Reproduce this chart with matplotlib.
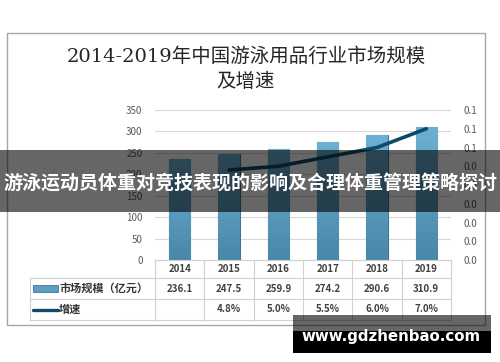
import numpy as np
import matplotlib
matplotlib.use('Agg')
import matplotlib.pyplot as plt
import matplotlib.ticker as ticker
from matplotlib.patches import Rectangle
from matplotlib.lines import Line2D
from matplotlib.transforms import blended_transform_factory

plt.rcParams['font.family'] = ['Noto Sans CJK SC', 'DejaVu Sans']

# data
years = ['2014', '2015', '2016', '2017', '2018', '2019']
market = [236.1, 247.5, 259.9, 274.2, 290.6, 310.9]
growth = [None, 0.048, 0.050, 0.055, 0.060, 0.070]
growth_labels = ['', '4.8%', '5.0%', '5.5%', '6.0%', '7.0%']
title_lines = ['2014-2019年中国游泳用品行业市场规模', '及增速']
banner = '游泳运动员体重对竞技表现的影响及合理体重管理策略探讨'
watermark = 'www.gdzhenbao.com'

W, H = 500.0, 362.0
bar_color = '#5b9dc0'
line_color = '#0d4a66'
grid_color = '#d9d9d9'
text_color = '#595959'


def fy(py):
    # pixel row (from top) -> figure fraction
    return 1 - py / H


fig = plt.figure(figsize=(5.0, 3.62), dpi=100)
fig.patch.set_facecolor('white')

# outer frame
fig.add_artist(Rectangle((7 / W, fy(325)), 478 / W, 292 / H, transform=fig.transFigure,
                         fill=False, edgecolor='#a6a6a6', linewidth=1.0))

# title (two lines)
for txt, py in zip(title_lines, [57, 82]):
    fig.text(246 / W, fy(py), txt, ha='center', va='center', fontsize=14,
             color='#262626', family=['DejaVu Serif', 'Noto Sans CJK SC'],
             fontweight='medium')

# main axes
ax = fig.add_axes([155 / W, fy(260), 296 / W, 150 / H])
x = np.arange(len(years))
bars = ax.bar(x, market, width=0.43, color=bar_color, edgecolor='#3f7696',
              linewidth=0.8, zorder=3)
# vertical gradient on bars (lighter top, darker bottom)
grad = np.linspace(0, 1, 64).reshape(-1, 1)
cmap = matplotlib.colors.LinearSegmentedColormap.from_list('bg', ['#4a87a8', '#6db0d3'])
for b in bars:
    bx, by = b.get_x(), b.get_y()
    bw, bh = b.get_width(), b.get_height()
    im = ax.imshow(grad, cmap=cmap, aspect='auto', origin='lower',
                   extent=(bx, bx + bw, by, by + bh), zorder=3.5)
    im.set_clip_path(b)
ax.set_xlim(-0.5, len(years) - 0.5)
ax.set_ylim(0, 350)
ax.yaxis.set_major_locator(ticker.MultipleLocator(50))
ax.grid(True, axis='y', color=grid_color, linewidth=0.8, zorder=0)
ax.set_xticks([])
for s in ax.spines.values():
    s.set_visible(False)
ax.tick_params(axis='y', length=0, pad=9, labelsize=7, labelcolor=text_color)

ax2 = ax.twinx()
gx = [i for i, g in enumerate(growth) if g is not None]
gy = [g for g in growth if g is not None]
ax2.plot(gx, gy, color=line_color, linewidth=2.6, solid_capstyle='round',
         solid_joinstyle='round', zorder=4)
ax2.set_ylim(0, 0.08)
ax2.yaxis.set_major_locator(ticker.MultipleLocator(0.01))
ax2.yaxis.set_major_formatter(ticker.FormatStrFormatter('%.1f'))
for s in ax2.spines.values():
    s.set_visible(False)
ax2.tick_params(axis='y', length=0, pad=9, labelsize=7, labelcolor=text_color)

# data table below the axes
tr = blended_transform_factory(ax.transData, fig.transFigure)
tf = fig.transFigure
tc = '#d0d0d0'
n = len(years)
rows_y = [260, 278, 299, 320]
fig.add_artist(Line2D([-0.5, n - 0.5], [fy(260)] * 2, transform=tr, color=tc, lw=0.8))
for py in rows_y[1:]:
    fig.add_artist(Line2D([30 / W, 451 / W], [fy(py)] * 2, transform=tf, color=tc, lw=0.8))
for b in np.arange(-0.5, n, 1.0):
    fig.add_artist(Line2D([b, b], [fy(260), fy(320)], transform=tr, color=tc, lw=0.8))
fig.add_artist(Line2D([30 / W, 30 / W], [fy(278), fy(320)], transform=tf, color=tc, lw=0.8))

cell_kw = dict(ha='center', va='center', fontsize=7, color='#404040', fontweight='bold')
for i in range(n):
    fig.text(i, fy(269.5), years[i], transform=tr, **cell_kw)
    fig.text(i, fy(288.5), '%.1f' % market[i], transform=tr, **cell_kw)
    fig.text(i, fy(309.5), growth_labels[i], transform=tr, **cell_kw)

# legend keys inside the table
fig.add_artist(Rectangle((33 / W, fy(292)), 25 / W, 7 / H, transform=tf,
                         facecolor=bar_color, edgecolor='#3f7696', linewidth=0.6))
fig.text(59 / W, fy(288.5), '市场规模（亿元）', ha='left', va='center', fontsize=8,
         color='#333333', fontweight='bold')
fig.add_artist(Line2D([33 / W, 58 / W], [fy(309.5)] * 2, transform=tf,
                      color=line_color, lw=2.4, solid_capstyle='round'))
fig.text(59 / W, fy(309.5), '增速', ha='left', va='center', fontsize=8,
         color='#333333', fontweight='bold')

# banner overlay
fig.add_artist(Rectangle((0, fy(212)), 1, 62 / H, transform=tf,
                         facecolor='black', alpha=0.6, edgecolor='none', zorder=10))
fig.text(0.5, fy(183), banner, ha='center', va='center', fontsize=13.7,
         color='white', fontweight='bold', zorder=11)

# watermark box
fig.add_artist(Rectangle((293 / W, fy(331)), 198 / W, 16 / H, transform=tf,
                         facecolor='black', alpha=0.6, edgecolor='none', zorder=10))
fig.add_artist(Rectangle((293 / W, fy(353)), 198 / W, 22 / H, transform=tf,
                         facecolor='black', edgecolor='none', zorder=10))
fig.text(391 / W, fy(337), watermark, ha='center', va='center', fontsize=10.8,
         color='white', fontweight='bold', family='DejaVu Sans', zorder=11)

fig.savefig('out.png', dpi=100)
plt.close(fig)
